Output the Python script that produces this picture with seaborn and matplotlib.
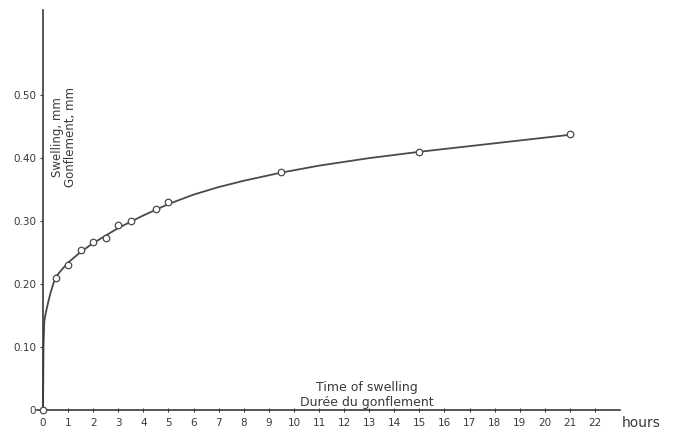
import matplotlib
matplotlib.use("Agg")
import matplotlib.pyplot as plt
import seaborn as sns
import pandas as pd

# Measured swelling (mm) against time of swelling (hours)
hours_measured = [0, 0.5, 1, 1.5, 2, 2.5, 3, 3.5, 4.5, 5, 9.5, 15, 21]
swelling_measured = [0.0, 0.210, 0.231, 0.254, 0.266, 0.273, 0.293, 0.300,
                     0.319, 0.330, 0.378, 0.410, 0.438]

# Smoothed swelling curve drawn through the measurements
hours_curve = [0, 0.02, 0.05, 0.1, 0.2, 0.3, 0.4, 0.5, 0.75, 1, 1.5, 2, 2.5,
               3, 3.5, 4, 4.5, 5, 6, 7, 8, 9.5, 11, 13, 15, 17, 19, 21]
swelling_curve = [0.0, 0.10, 0.14, 0.152, 0.170, 0.186, 0.199, 0.211, 0.223,
                  0.234, 0.251, 0.265, 0.277, 0.289, 0.299, 0.309, 0.318,
                  0.327, 0.342, 0.354, 0.364, 0.377, 0.388, 0.400, 0.410,
                  0.419, 0.428, 0.437]

x_ticks = list(range(0, 23))
y_ticks = [0, 0.10, 0.20, 0.30, 0.40, 0.50]
y_tick_labels = ["0", "0.10", "0.20", "0.30", "0.40", "0.50"]

sns.set_style("ticks")
plt.rcParams["font.family"] = ["DejaVu Sans"]

ink = "#3a3a3a"
measured = pd.DataFrame({"hours": hours_measured, "swelling": swelling_measured})
curve = pd.DataFrame({"hours": hours_curve, "swelling": swelling_curve})

fig = plt.figure(figsize=(6.74, 4.30), dpi=100)
ax = fig.add_axes([0.0545, 0.0465, 0.8655, 0.930])

sns.lineplot(data=curve, x="hours", y="swelling", ax=ax, color="#4a4a4a",
             linewidth=1.3, clip_on=False)
sns.scatterplot(data=measured, x="hours", y="swelling", ax=ax, marker="o",
                s=22, facecolor="white", edgecolor="#4a4a4a", linewidth=0.9,
                zorder=3, clip_on=False)

ax.set_xlim(-0.25, 23.0)
ax.set_ylim(0, 0.635)

ax.spines["left"].set_position(("data", 0))
ax.spines["top"].set_visible(False)
ax.spines["right"].set_visible(False)
for side in ("left", "bottom"):
    ax.spines[side].set_color(ink)
    ax.spines[side].set_linewidth(1.2)

ax.set_xticks(x_ticks)
ax.set_xticklabels([str(t) for t in x_ticks])
ax.set_yticks(y_ticks)
ax.set_yticklabels(y_tick_labels)
ax.tick_params(axis="x", direction="inout", length=3, width=0.8, colors=ink,
               labelsize=7.5, pad=4)
ax.tick_params(axis="y", direction="out", length=2, width=0.8, colors=ink,
               labelsize=7.5, pad=3)
ax.set_xlabel("")
ax.set_ylabel("")

# unit label following the last hour tick
ax.text(23.05, -0.021, "hours", ha="left", va="center", fontsize=10,
        color=ink, clip_on=False)

# axis titles in both languages
ax.text(12.9, 0.024, "Time of swelling\nDurée du gonflement", ha="center",
        va="center", fontsize=9, color=ink, linespacing=1.15)
ax.text(0.85, 0.433, "Swelling, mm\nGonflement, mm", ha="center",
        va="center", rotation=90, fontsize=8.5, color=ink, linespacing=1.0)

fig.savefig("out.png", dpi=100)
